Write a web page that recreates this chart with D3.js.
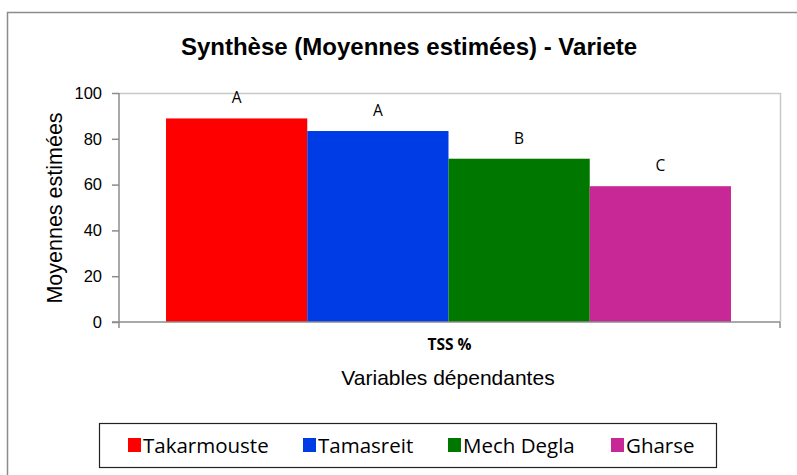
<!DOCTYPE html>
<html>
<head>
<meta charset="utf-8">
<script src="https://cdn.jsdelivr.net/npm/d3@7"></script>
<style>
  body { margin: 0; background: #fff; }
  svg { display: block; }
</style>
</head>
<body>
<svg id="chart" width="797" height="475"></svg>
<script>
// Data
var varietes = ["Takarmouste", "Tamasreit", "Mech Degla", "Gharse"];
var moyennes = [88.9, 83.4, 71.3, 59.3];
var groupes  = ["A", "A", "B", "C"];
var couleurs = ["#ff0000", "#003ce6", "#007800", "#c82896"];
var variable = ["TSS %"];
var yTicks   = [0, 20, 40, 60, 80, 100];

var svg = d3.select("#chart");

// Outer chart frame (clipped on the right and bottom)
svg.append("rect")
   .attr("x", 7.5).attr("y", 12.5)
   .attr("width", 820).attr("height", 500)
   .attr("fill", "#fff")
   .attr("stroke", "#8c8c8c")
   .attr("stroke-width", 1.5);

// Plot area
var plotLeft = 119, plotRight = 780, plotTop = 93, plotBottom = 322;

var y = d3.scaleLinear().domain([0, 100]).range([plotBottom, plotTop]);
var xCat = d3.scaleBand().domain(variable).range([plotLeft, plotRight]).paddingInner(0).paddingOuter(0.085);
var xVar = d3.scaleBand().domain(varietes).range([0, xCat.bandwidth()]);

// Plot area border (top & right)
svg.append("path")
   .attr("d", "M" + plotLeft + "," + (plotTop + 0.5) + "H" + (plotRight + 0.5) + "V" + plotBottom)
   .attr("fill", "none")
   .attr("stroke", "#c8c8c8")
   .attr("stroke-width", 1.5);

// Bars
var g = svg.append("g").attr("transform", "translate(" + (xCat(variable[0]) - 1) + ",0)");
g.selectAll("rect.bar")
 .data(varietes)
 .enter().append("rect")
 .attr("class", "bar")
 .attr("x", function(d) { return xVar(d); })
 .attr("width", xVar.bandwidth())
 .attr("y", function(d, i) { return y(moyennes[i]); })
 .attr("height", function(d, i) { return plotBottom - y(moyennes[i]); })
 .attr("fill", function(d, i) { return couleurs[i]; });

// Letters of significance
g.selectAll("text.grp")
 .data(varietes)
 .enter().append("text")
 .attr("class", "grp")
 .attr("x", function(d) { return xVar(d) + xVar.bandwidth() / 2; })
 .attr("y", function(d, i) { return y(moyennes[i]) - 15; })
 .attr("text-anchor", "middle")
 .attr("font-family", "Open Sans, sans-serif")
 .attr("font-size", 15.5)
 .attr("fill", "#000")
 .text(function(d, i) { return groupes[i]; });

// Y axis
var yAxis = svg.append("g")
   .attr("transform", "translate(" + plotLeft + ",0)")
   .call(d3.axisLeft(y).tickValues(yTicks).tickSize(7).tickPadding(10));
yAxis.selectAll("line, path").attr("stroke", "#8c8c8c").attr("stroke-width", 1.5);
yAxis.select("path").attr("d", "M0," + plotTop + "V" + plotBottom);
yAxis.selectAll("text")
     .attr("font-family", "Liberation Sans, Arial, sans-serif")
     .attr("font-size", 16.5)
     .attr("fill", "#000");

// X axis
var xAxis = svg.append("g")
   .attr("transform", "translate(0," + plotBottom + ")")
   .call(d3.axisBottom(xCat).tickSize(0).tickPadding(17));
xAxis.select("path")
     .attr("d", "M" + (plotLeft - 7) + ",0H" + plotRight)
     .attr("stroke", "#8c8c8c").attr("stroke-width", 1.5);
xAxis.selectAll("text")
     .attr("font-family", "Open Sans, sans-serif")
     .attr("font-weight", "bold")
     .attr("font-size", 15.5)
     .attr("fill", "#000");
// boundary ticks of the category axis
xAxis.selectAll("line.edge")
     .data([plotLeft, plotRight])
     .enter().append("line")
     .attr("class", "edge")
     .attr("x1", function(d) { return d; }).attr("x2", function(d) { return d; })
     .attr("y1", 0).attr("y2", 6)
     .attr("stroke", "#8c8c8c").attr("stroke-width", 1.5);

// Title
svg.append("text")
   .attr("x", 409).attr("y", 55)
   .attr("text-anchor", "middle")
   .attr("font-family", "Liberation Sans, Arial, sans-serif")
   .attr("font-weight", "bold")
   .attr("font-size", 24)
   .text("Synthèse (Moyennes estimées) - Variete");

// Axis titles
svg.append("text")
   .attr("transform", "translate(62,208) rotate(-90)")
   .attr("text-anchor", "middle")
   .attr("font-family", "Liberation Sans, Arial, sans-serif")
   .attr("font-size", 21.5)
   .text("Moyennes estimées");

svg.append("text")
   .attr("x", 448).attr("y", 385)
   .attr("text-anchor", "middle")
   .attr("font-family", "Liberation Sans, Arial, sans-serif")
   .attr("font-size", 21)
   .text("Variables dépendantes");

// Legend
svg.append("rect")
   .attr("x", 99.5).attr("y", 423.5)
   .attr("width", 617).attr("height", 44)
   .attr("fill", "#fff")
   .attr("stroke", "#222")
   .attr("stroke-width", 1.2);

var legendX = [128, 303, 448, 611];
var leg = svg.selectAll("g.leg")
   .data(varietes)
   .enter().append("g")
   .attr("class", "leg")
   .attr("transform", function(d, i) { return "translate(" + legendX[i] + ",445)"; });
leg.append("rect")
   .attr("x", 0).attr("y", -7)
   .attr("width", 13).attr("height", 14)
   .attr("fill", function(d, i) { return couleurs[i]; });
leg.append("text")
   .attr("x", 15).attr("y", 7.5)
   .attr("font-family", "Open Sans, sans-serif")
   .attr("font-size", 20.5)
   .attr("fill", "#000")
   .text(function(d) { return d; });
</script>
</body>
</html>
